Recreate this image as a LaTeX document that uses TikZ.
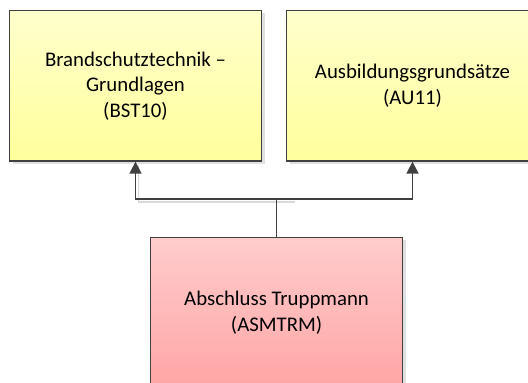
\documentclass[tikz,border=0pt]{standalone}
\usepackage{fontspec}
\setmainfont{Carlito}
\usetikzlibrary{arrows.meta,shadows}
\definecolor{edgec}{HTML}{404040}
\definecolor{ytop}{HTML}{FFFFCC}
\definecolor{ybot}{HTML}{FFFF9C}
\definecolor{ptop}{HTML}{FFCCCC}
\definecolor{pbot}{HTML}{FFA6A6}
\tikzset{
  box/.style={draw=edgec, line width=1.3pt, minimum width=252pt, minimum height=150.5pt,
    align=center, font=\fontsize{20.8}{25.5}\selectfont, inner sep=0pt,
    drop shadow={shadow xshift=3pt, shadow yshift=-3pt, fill=black!12, opacity=1}},
  ybox/.style={box, top color=ytop, bottom color=ybot},
  pbox/.style={box, top color=ptop, bottom color=pbot},
  conn/.style={draw=edgec, line width=1.6pt},
  arr/.style={conn, -{Triangle[width=12pt,length=12pt]}},
  connshadow/.style={draw=black!15, line width=1.5pt}
}
\begin{document}
\begin{tikzpicture}[x=1pt,y=1pt]
\useasboundingbox (0,0) rectangle (528,383);
\fill[white] (0,0) rectangle (528,383);
\node[ybox] (l) at (135.5,297.25) {Brandschutztechnik –\\Grundlagen\\(BST10)};
\node[ybox] (r) at (412.5,297.25) {Ausbildungsgrundsätze\\(AU11)};
\node[pbox] (b) at (276.6,70.5) {Abschluss Truppmann\\(ASMTRM)};
\coordinate (j) at (b.north |- 0,184);
\draw[connshadow] ([shift={(3,-3)}]l.south) -- ([shift={(3,-3)}]l.south |- j) -- ([shift={(18,-3)}]j);
\draw[conn] (b.north) -- (j);
\draw[arr] (j) -| (l.south);
\draw[arr] (j) -| (r.south);
\end{tikzpicture}
\end{document}
